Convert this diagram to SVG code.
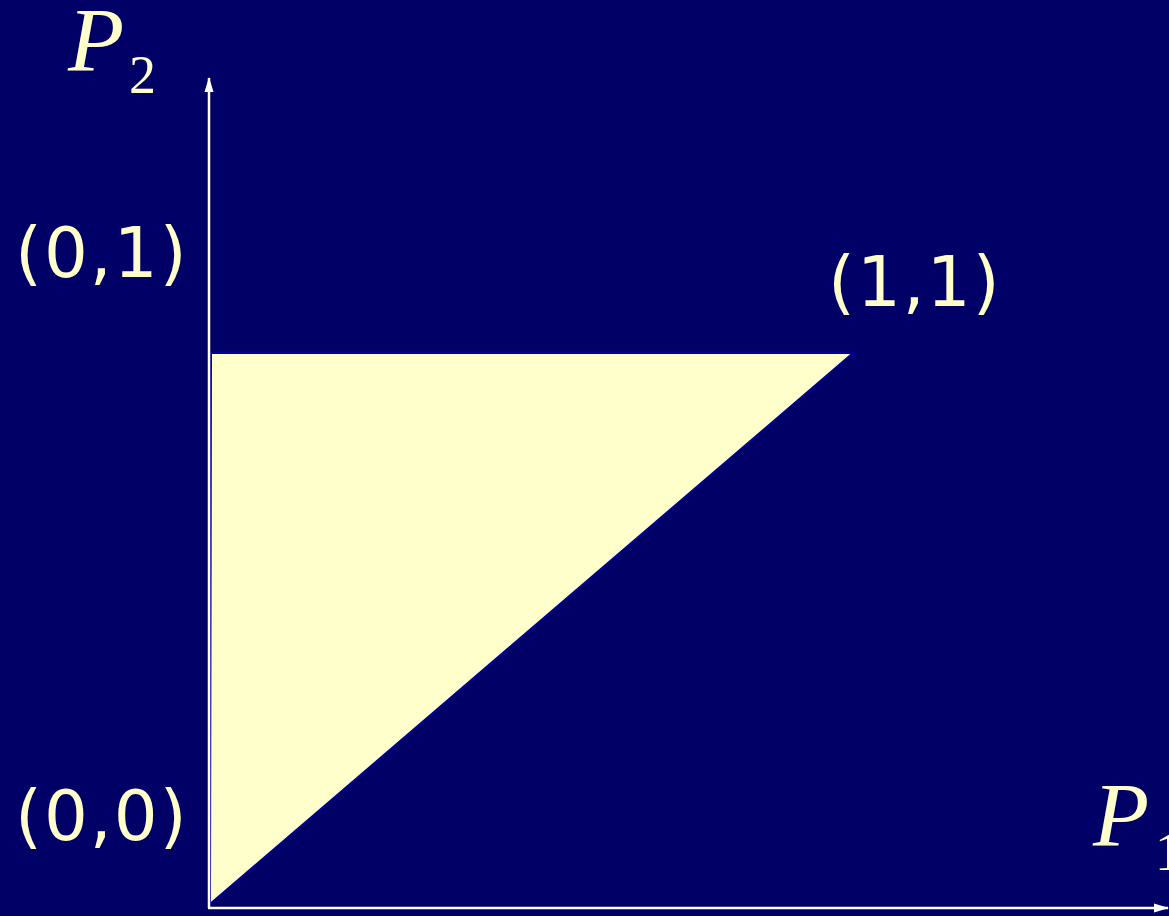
<svg xmlns="http://www.w3.org/2000/svg" width="1169" height="916" viewBox="0 0 1169 916">
<defs>
<style>
.lbl{font-family:"DejaVu Sans",Verdana,sans-serif;font-size:69px;fill:#FFFFCC;letter-spacing:2px}
.var{font-family:"Liberation Serif","Times New Roman",serif;font-style:italic;font-size:92px;fill:#FFFFCC}
.sub{font-family:"Liberation Serif","Times New Roman",serif;font-size:54px;fill:#FFFFCC}
.axis{stroke:#FFFFFF;stroke-width:2.5;fill:none}
</style>
<marker id="ah" markerWidth="15" markerHeight="10" refX="14" refY="5" orient="auto" markerUnits="userSpaceOnUse" viewBox="0 0 15 10">
<path d="M0,0.5 L15,5 L0,9.5 Z" fill="#FFFFFF"/>
</marker>
</defs>
<rect width="1169" height="916" fill="#000066"/>
<g id="region">
<polygon points="211,353 853,353 210,904" fill="#FFFFCC" stroke="#000099" stroke-width="2"/>
</g>
<g id="connectors">
<line class="axis" x1="209" y1="908" x2="209" y2="78" marker-end="url(#ah)"/>
<line class="axis" x1="208" y1="908" x2="1168" y2="908" marker-end="url(#ah)"/>
</g>
<g id="label-p2">
<text class="var" x="68" y="71">P</text>
<text class="sub" x="129" y="93">2</text>
</g>
<g id="label-p1">
<text class="var" x="1093" y="846">P</text>
<text class="sub" x="1155" y="870">1</text>
</g>
<g id="label-01"><text class="lbl" x="15" y="277">(0,1)</text></g>
<g id="label-11"><text class="lbl" x="828" y="306">(1,1)</text></g>
<g id="label-00"><text class="lbl" x="15" y="840">(0,0)</text></g>
</svg>
